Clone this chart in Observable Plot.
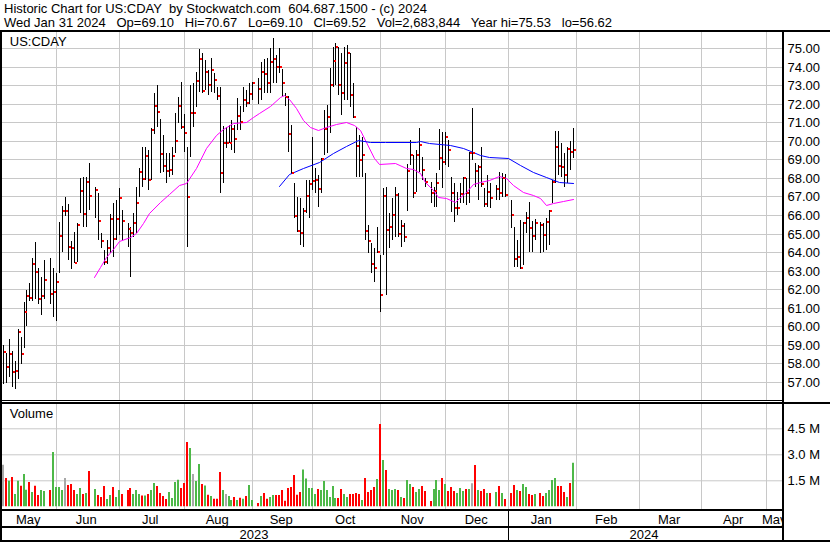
<!DOCTYPE html>
<html><head><meta charset="utf-8">
<script src="https://cdn.jsdelivr.net/npm/d3@7"></script>
<script src="https://cdn.jsdelivr.net/npm/@observablehq/plot@0.6"></script>
<style>
html,body{margin:0;padding:0;background:#fff;}
#wrap{position:relative;width:830px;height:543px;overflow:hidden;font-family:"Liberation Sans",Arial,sans-serif;background:#fff;}
.ln{position:absolute;background:#000;}
#title{position:absolute;left:4px;top:1.8px;font-size:13px;line-height:14px;white-space:pre;color:#000;}
#price,#volume{position:absolute;left:0;}
#price{top:32px;} #volume{top:403px;}
</style></head><body>
<div id="wrap">
  <div id="title"></div>
  <div id="price"></div>
  <div id="volume"></div>
</div>
<script>
// ---------- data ----------
const titleLine1 = "Historic Chart for US:CDAY  by Stockwatch.com  604.687.1500 - (c) 2024";
const titleLine2 = "Wed Jan 31 2024   Op=69.10   Hi=70.67   Lo=69.10   Cl=69.52   Vol=2,683,844   Year hi=75.53   lo=56.62";
const symbolLabel = "US:CDAY";
const volumeLabel = "Volume";

const firstDay = "2023-05-08", lastDay = "2024-01-31";
const holidays = ["2023-05-29","2023-06-19","2023-07-04","2023-09-04","2023-11-23","2023-12-25","2024-01-01","2024-01-15"];

const highs = [
 58.98,58.53,59.29,58.66,58.14,59.83,59.42,61.31,61.95,62.33,63.66,64.54,63.16,62.66,63.57,
 63.66,63.16,62.85,65.64,66.51,66.99,66.60,64.60,65.10,65.55,67.98,68.07,68.07,68.79,
 67.51,67.21,65.01,64.11,64.65,66.06,66.63,66.81,67.48,66.27,
 65.59,65.37,66.09,67.53,68.56,69.66,69.69,69.51,70.68,72.57,73.02,71.17,70.32,69.33,69.37,69.69,71.49,72.39,73.16,71.45,69.69,73.02,73.11,73.74,74.95,74.73,74.37,73.83,74.46,73.65,72.93,72.93,70.80,70.77,70.86,71.13,70.86,72.30,71.90,72.93,72.75,73.11,73.20,
 73.40,74.28,74.40,74.46,75.00,75.53,74.64,75.00,73.90,72.60,72.40,70.86,67.71,66.99,66.90,66.36,67.89,67.89,70.23,68.52,68.16,69.06,71.67,71.94,73.92,75.09,75.31,75.09,74.73,75.09,75.18,74.73,73.11,70.77,70.30,70.23,68.25,65.46,64.47,64.20,65.37,63.84,67.44,67.53,66.09,66.90,67.53,67.21,65.73,65.55,68.76,70.05,69.24,69.51,70.68,69.15,68.00,
 67.80,67.53,68.25,70.63,70.50,70.50,70.05,68.07,67.71,67.26,67.71,68.07,67.98,69.42,71.76,68.79,68.70,69.69,67.44,68.16,67.71,
 67.62,68.34,68.29,68.22,
 66.81,65.37,64.65,65.73,65.64,66.15,66.70,65.68,65.77,
 65.64,65.55,65.82,66.27,67.89,70.56,70.56,69.87,69.33,69.69,70.02,70.67];
const lows = [
 56.88,56.91,57.27,56.70,56.62,57.15,57.94,58.80,60.03,61.34,61.36,61.45,61.18,60.60,61.47,
 61.18,60.48,60.30,62.85,63.99,65.97,63.57,63.11,63.39,63.46,66.09,65.37,65.34,66.27,
 65.82,64.65,64.20,63.30,63.34,63.93,63.73,64.65,64.92,64.65,
 64.29,62.67,64.83,65.01,66.99,67.53,67.89,67.35,67.89,70.36,70.74,68.25,68.34,67.75,68.07,68.16,69.33,70.95,70.63,69.42,64.29,69.15,70.77,71.85,72.66,72.57,72.75,72.48,72.66,72.57,72.21,67.19,67.70,69.60,69.87,69.50,69.33,70.60,70.60,71.58,71.85,72.00,72.20,
 72.00,72.21,72.60,72.60,72.57,73.11,73.11,73.65,72.40,71.90,69.42,68.20,65.82,65.10,64.38,64.26,66.09,65.82,67.35,67.17,66.42,67.17,69.24,69.33,70.40,72.90,73.00,72.48,71.40,72.20,72.21,71.85,71.22,68.07,68.07,68.07,64.65,63.93,62.85,62.40,63.93,60.78,63.84,61.68,64.20,64.65,64.83,64.83,64.29,64.56,66.24,68.70,66.90,67.26,68.34,67.89,67.50,
 66.63,66.45,66.45,68.43,67.44,68.70,68.61,66.18,65.64,66.00,66.63,66.63,66.54,66.63,68.97,67.53,66.81,67.53,66.45,66.45,66.36,
 66.81,66.81,66.99,66.99,
 65.28,63.21,63.21,63.07,63.30,65.01,64.02,64.02,64.65,
 63.93,64.02,64.11,64.38,66.63,67.71,68.16,68.07,67.53,67.71,68.43,69.10];
const closes = [
 58.61,57.80,58.52,57.53,57.58,59.69,58.52,60.77,61.63,61.54,63.37,62.91,61.49,61.65,62.51,
 61.72,61.83,62.40,64.89,66.24,66.24,64.29,64.24,63.43,65.48,67.32,66.07,67.80,67.05,
 67.35,65.68,64.60,63.48,64.22,65.79,64.71,65.79,66.94,65.68,
 65.25,65.05,65.59,66.67,68.32,67.95,69.19,67.91,70.61,71.90,71.56,69.30,68.65,68.38,68.45,69.19,70.02,71.90,70.77,70.43,66.99,71.53,71.53,73.25,74.42,72.70,73.72,73.04,73.85,73.29,72.43,68.28,69.87,69.87,69.90,70.63,70.10,71.35,71.04,72.20,72.06,72.52,73.11,
 72.79,73.72,73.63,73.11,74.27,74.42,74.01,74.00,73.15,72.35,70.39,68.27,65.97,65.14,65.01,66.24,67.05,67.68,67.84,67.91,67.41,69.03,70.65,71.31,73.04,74.33,75.09,73.04,72.61,74.21,74.77,72.50,71.31,69.73,68.97,69.24,65.16,64.60,63.36,63.16,64.00,61.68,67.05,65.19,65.35,66.02,67.10,64.96,65.41,64.83,68.40,69.24,67.21,69.24,69.78,68.43,67.80,
 67.21,67.32,67.75,69.10,68.88,70.23,69.51,67.21,66.36,66.40,67.14,67.98,67.17,69.37,69.37,68.40,68.61,67.66,66.58,67.26,66.94,
 67.42,67.21,68.02,67.10,
 66.02,63.63,63.75,63.14,65.59,65.84,65.30,64.89,65.59,
 65.46,64.94,65.62,66.24,67.80,69.67,68.65,68.61,68.16,69.58,69.40,69.52];
const volumesM = [
 2.57,1.81,1.65,1.86,0.88,1.65,1.36,2.04,1.13,1.58,1.00,1.36,0.83,1.11,1.06,
 1.11,3.31,1.29,1.29,1.11,1.81,1.40,1.46,1.11,0.88,1.23,0.88,0.94,2.21,
 1.17,0.83,0.71,1.34,0.59,0.83,1.29,0.71,1.11,0.88,
 1.11,1.23,0.88,1.11,0.88,0.79,0.79,0.88,1.11,1.52,1.34,0.94,0.77,0.59,1.00,0.65,1.58,1.71,1.23,1.52,3.88,3.54,2.04,1.63,2.61,1.46,1.38,0.84,0.77,0.61,0.61,2.15,1.11,0.88,0.77,0.54,0.71,0.54,0.67,0.61,0.77,1.40,0.54,
 0.36,0.77,0.94,0.61,0.71,0.83,0.83,0.83,1.11,0.50,1.23,1.29,1.98,0.84,1.00,2.29,1.77,1.23,1.23,0.88,1.17,1.11,1.63,1.11,0.71,1.34,0.65,0.65,1.17,0.88,0.71,0.88,0.88,0.94,0.88,0.54,1.81,1.00,1.11,1.29,1.75,4.92,2.84,2.27,1.17,1.11,1.17,1.11,0.71,0.65,1.69,1.46,1.29,1.00,1.17,1.34,1.06,
 0.48,1.17,1.69,1.11,1.81,1.46,1.06,1.29,1.06,0.94,1.23,1.06,1.17,1.17,1.50,2.56,1.11,1.06,1.17,0.94,0.94,
 1.00,1.34,0.94,0.59,
 0.94,1.40,1.11,1.06,1.46,1.29,0.88,0.83,0.88,
 0.94,0.77,0.94,1.11,1.69,1.81,1.34,1.34,1.00,0.71,1.52,2.68];

// moving averages (x in trading-weekday offsets from 2023-06-01)
const magentaDays = [12.8,14.6,16.9,19.1,21.3,24.7,26.9,29.2,31.4,34.8,38.1,41.5,43.7,46.9,50.5,53.9,56.1,59.5,63.9,66.2,68.4,71.8,75.2,76.8,78.5,80.8,83.0,85.3,88.1,90.9,94.2,97.6,100.4,102.1,104.3,107.1,108.8,113.9,117.8,120.0,122.3,124.0,126.8,128.5,131.3,134.1,135.7,138.0,140.2,142.5,145.8,149.2,151.5,153.7,157.1,160.4,162.7,164.9,167.2,170.5,173.9];
const magentaVals = [62.67,63.21,63.75,64.15,64.60,64.80,65.05,65.55,66.09,66.69,67.14,67.62,67.75,68.52,69.60,70.32,70.63,70.95,71.04,71.31,71.49,71.89,72.39,72.48,72.25,71.76,71.13,70.74,70.59,70.74,70.92,71.02,70.86,70.59,69.96,69.06,68.76,68.79,68.52,68.47,68.25,67.80,67.35,66.99,66.90,66.72,66.90,67.26,67.68,67.80,67.89,68.11,67.98,67.62,67.26,67.08,66.90,66.54,66.67,66.78,66.85];
const blueDays = [74.9,78.5,83.0,88.6,93.1,97.6,101.5,105.5,110.8,121.2,122.3,125.6,132.4,136.9,140.2,142.5,145.8,152.0,156.0,160.4,164.9,169.4,173.9];
const blueVals = [67.59,68.23,68.52,68.85,69.33,69.73,70.05,69.95,69.92,69.93,70.00,69.86,69.78,69.62,69.42,69.24,69.12,69.06,68.70,68.32,68.07,67.78,67.73];

const priceTicks = [57,58,59,60,61,62,63,64,65,66,67,68,69,70,71,72,73,74,75];
const volumeTicks = [1.5e6, 3.0e6, 4.5e6];
const monthStarts = ["2023-05-01","2023-06-01","2023-07-01","2023-08-01","2023-09-01","2023-10-01","2023-11-01","2023-12-01","2024-01-01","2024-02-01","2024-03-01","2024-04-01","2024-05-01","2024-06-01"];
const monthNames = ["May","Jun","Jul","Aug","Sep","Oct","Nov","Dec","Jan","Feb","Mar","Apr","May"];
const yearStarts = ["2023-01-01","2024-01-01","2025-01-01"];
const yearNames = ["2023","2024"];

// ---------- calendar (weekday positions, holidays leave gaps) ----------
const DAY = 86400000;
const parse = s => new Date(s + "T00:00:00Z");
const epoch = parse("2023-01-02");
function W(d){const n=Math.round((d-epoch)/DAY);const wk=Math.floor(n/7);const r=n-wk*7;return wk*5+Math.min(r,4)+1;}
const anchor = W(parse("2023-06-01"));
const pos = s => W(parse(s)) - anchor;

const hol = new Set(holidays);
const days = [];
for (let t = parse(firstDay); t <= parse(lastDay); t = new Date(+t + DAY)) {
  const wd = t.getUTCDay(), iso = t.toISOString().slice(0,10);
  if (wd === 0 || wd === 6 || hol.has(iso)) continue;
  days.push(iso);
}
const UP = "#4db848", DOWN = "#ff0000", FLAT = "#a8a8a8";
const bars = days.map((d,i) => {
  const ch = i === 0 ? 0 : Math.sign(Math.round(closes[i]*100) - Math.round(closes[i-1]*100));
  return {date:d, x:pos(d), high:highs[i], low:lows[i], close:closes[i], vol:volumesM[i]*1e6,
          color: ch > 0 ? UP : ch < 0 ? DOWN : FLAT};
});
const magenta = magentaDays.map((x,i)=>({x, v:magentaVals[i]}));
const blue = blueDays.map((x,i)=>({x, v:blueVals[i]}));

// ---------- geometry ----------
const W0 = 830, FL = 2, FR = 783, PX0 = 56.2, DX = 2.971;
const xDomain = [(FL-PX0)/DX, (FR-PX0)/DX];
const clampX = v => Math.max(xDomain[0], Math.min(xDomain[1], v));
const gridMonths = monthStarts.map(pos).filter(v => v > xDomain[0] && v < xDomain[1]);
const monthRows = monthNames.map((label,i) => ({label, mid:(clampX(pos(monthStarts[i])) + clampX(pos(monthStarts[i+1])))/2}));
const yearRows = yearNames.map((label,i) => ({label, mid:(clampX(pos(yearStarts[i])) + clampX(pos(yearStarts[i+1])))/2}));

const style = {fontFamily:'"Liberation Sans", Arial, sans-serif', fontSize:"13px", color:"#000", background:"transparent", overflow:"visible"};
const GRID = "#c8c8c8";

document.getElementById("title").textContent = titleLine1 + "\n" + titleLine2;

const price = Plot.plot({
  width: W0, height: 368, marginLeft: FL, marginRight: W0-FR, marginTop: 0, marginBottom: 0,
  style,
  x: {domain: xDomain, round: true, axis: null},
  y: {domain: [56.01, 75.88], round: true, label: null},
  marks: [
    Plot.ruleY(priceTicks, {stroke: GRID}),
    Plot.ruleX(gridMonths, {stroke: GRID}),
    Plot.ruleX(bars, {x: "x", y1: "low", y2: "high", stroke: "#000"}),
    Plot.line(magenta, {x: "x", y: "v", stroke: "#ff00ff", strokeWidth: 1}),
    Plot.line(blue, {x: "x", y: "v", stroke: "#0000ff", strokeWidth: 1}),
    Plot.dot(bars, {x: "x", y: "close", symbol: "square", r: 2 / Math.sqrt(Math.PI), fill: "#ff0000", stroke: null, dx: 1.5, dy: -0.5}),
    Plot.axisY(priceTicks, {anchor: "right", tickSize: 0, tickPadding: 4, tickFormat: d => d.toFixed(2), label: null}),
    Plot.text([symbolLabel], {frameAnchor: "top-left", lineAnchor: "middle", textAnchor: "start", dx: 7.3, dy: 9.8})
  ]
});
document.getElementById("price").append(price);

const volume = Plot.plot({
  width: W0, height: 140, marginLeft: FL, marginRight: W0-FR, marginTop: 0, marginBottom: 33.7,
  style,
  x: {domain: xDomain, round: true, axis: null},
  y: {domain: [-0.173e6, 5.96e6], label: null},
  color: {type: "identity"},
  marks: [
    Plot.ruleY(volumeTicks, {stroke: GRID}),
    Plot.ruleX(gridMonths, {stroke: GRID}),
    Plot.ruleX(bars, {x: "x", y1: 0, y2: "vol", stroke: "color", strokeWidth: 2, dx: -0.5, insetBottom: -3}),
    Plot.axisY(volumeTicks, {anchor: "right", tickSize: 0, tickPadding: 4, tickFormat: d => (d/1e6).toFixed(1) + " M", label: null}),
    Plot.text([volumeLabel], {frameAnchor: "top-left", lineAnchor: "middle", textAnchor: "start", dx: 7.3, dy: 10.8}),
    Plot.text(monthRows, {x: "mid", text: "label", frameAnchor: "bottom", lineAnchor: "middle", dy: 9.8, dx: -1.3}),
    Plot.text(yearRows, {x: "mid", text: "label", frameAnchor: "bottom", lineAnchor: "middle", dy: 25.5, dx: -1.5})
  ]
});
document.getElementById("volume").append(volume);

// ---------- frame lines ----------
const wrap = document.getElementById("wrap");
function box(l,t,w,h,bg){const d=document.createElement("div");d.className="ln";Object.assign(d.style,{left:l+"px",top:t+"px",width:w+"px",height:h+"px"});if(bg)d.style.background=bg;wrap.append(d);}
const janX = Math.round(volume.scale("x").apply(pos("2024-01-01")));
box(784, 511, 46, 29, "#fff");     // right column of date rows
box(0, 30, 830, 2);                // header rule
box(0, 30, 2, 512);                // left border
box(782, 30, 2, 512);              // axis separator
box(0, 400, 782, 1);               // panel double rule
box(0, 402, 830, 2);
box(0, 509, 784, 2);               // bottom of volume panel
box(0, 526, 784, 2);               // month row
box(0, 540, 830, 2);               // year row
box(janX, 511, 1, 29);             // year separator
</script>
</body></html>
